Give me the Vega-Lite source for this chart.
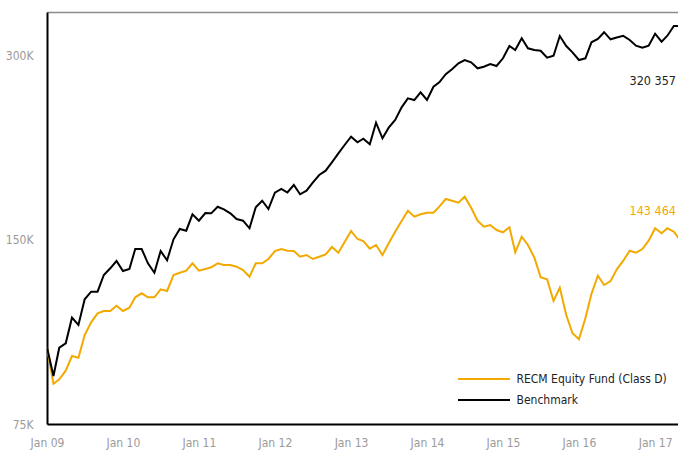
{
  "$schema": "https://vega.github.io/schema/vega-lite/v6.json",
  "width": 631,
  "height": 412,
  "autosize": {"type": "none"},
  "padding": {"left": 47, "top": 12, "right": 0, "bottom": 26},
  "background": "white",
  "config": {
    "view": {"stroke": null},
    "font": "Liberation Sans Narrow, DejaVu Sans Condensed, sans-serif"
  },
  "datasets": {
    "perf": [
      {"date": "2009/01/01", "fund": 100000, "benchmark": 100000},
      {"date": "2009/02/01", "fund": 87260, "benchmark": 89820},
      {"date": "2009/03/01", "fund": 88720, "benchmark": 99900},
      {"date": "2009/04/01", "fund": 91630, "benchmark": 101570},
      {"date": "2009/05/01", "fund": 96830, "benchmark": 111820},
      {"date": "2009/06/01", "fund": 96210, "benchmark": 108790},
      {"date": "2009/07/01", "fund": 104770, "benchmark": 119820},
      {"date": "2009/08/01", "fund": 109900, "benchmark": 123290},
      {"date": "2009/09/01", "fund": 113680, "benchmark": 123290},
      {"date": "2009/10/01", "fund": 114670, "benchmark": 131270},
      {"date": "2009/11/01", "fund": 114670, "benchmark": 134620},
      {"date": "2009/12/01", "fund": 116970, "benchmark": 138370},
      {"date": "2010/01/01", "fund": 114670, "benchmark": 133260},
      {"date": "2010/02/01", "fund": 116090, "benchmark": 134270},
      {"date": "2010/03/01", "fund": 120720, "benchmark": 144740},
      {"date": "2010/04/01", "fund": 122550, "benchmark": 144740},
      {"date": "2010/05/01", "fund": 120720, "benchmark": 137180},
      {"date": "2010/06/01", "fund": 120720, "benchmark": 132410},
      {"date": "2010/07/01", "fund": 124410, "benchmark": 143650},
      {"date": "2010/08/01", "fund": 123620, "benchmark": 138730},
      {"date": "2010/09/01", "fund": 131270, "benchmark": 150110},
      {"date": "2010/10/01", "fund": 132410, "benchmark": 156030},
      {"date": "2010/11/01", "fund": 133410, "benchmark": 155040},
      {"date": "2010/12/01", "fund": 137180, "benchmark": 164900},
      {"date": "2011/01/01", "fund": 133410, "benchmark": 160980},
      {"date": "2011/02/01", "fund": 134270, "benchmark": 165700},
      {"date": "2011/03/01", "fund": 135130, "benchmark": 165500},
      {"date": "2011/04/01", "fund": 137180, "benchmark": 169670},
      {"date": "2011/05/01", "fund": 136310, "benchmark": 168020},
      {"date": "2011/06/01", "fund": 136310, "benchmark": 165510},
      {"date": "2011/07/01", "fund": 135430, "benchmark": 162010},
      {"date": "2011/08/01", "fund": 133760, "benchmark": 160980},
      {"date": "2011/09/01", "fund": 130440, "benchmark": 156440},
      {"date": "2011/10/01", "fund": 137180, "benchmark": 169290},
      {"date": "2011/11/01", "fund": 137180, "benchmark": 173540},
      {"date": "2011/12/01", "fund": 139410, "benchmark": 168210},
      {"date": "2012/01/01", "fund": 143650, "benchmark": 178840},
      {"date": "2012/02/01", "fund": 144740, "benchmark": 181340},
      {"date": "2012/03/01", "fund": 143820, "benchmark": 178970},
      {"date": "2012/04/01", "fund": 143650, "benchmark": 184090},
      {"date": "2012/05/01", "fund": 140620, "benchmark": 177770},
      {"date": "2012/06/01", "fund": 141520, "benchmark": 180180},
      {"date": "2012/07/01", "fund": 139410, "benchmark": 185680},
      {"date": "2012/08/01", "fund": 140620, "benchmark": 191130},
      {"date": "2012/09/01", "fund": 141790, "benchmark": 194240},
      {"date": "2012/10/01", "fund": 145830, "benchmark": 200470},
      {"date": "2012/11/01", "fund": 142750, "benchmark": 207370},
      {"date": "2012/12/01", "fund": 148600, "benchmark": 213940},
      {"date": "2013/01/01", "fund": 154870, "benchmark": 220710},
      {"date": "2013/02/01", "fund": 150280, "benchmark": 216110},
      {"date": "2013/03/01", "fund": 149150, "benchmark": 219050},
      {"date": "2013/04/01", "fund": 144900, "benchmark": 214580},
      {"date": "2013/05/01", "fund": 146930, "benchmark": 232630},
      {"date": "2013/06/01", "fund": 141520, "benchmark": 219380},
      {"date": "2013/07/01", "fund": 147870, "benchmark": 228300},
      {"date": "2013/08/01", "fund": 154470, "benchmark": 234990},
      {"date": "2013/09/01", "fund": 160800, "benchmark": 246480},
      {"date": "2013/10/01", "fund": 167140, "benchmark": 254950},
      {"date": "2013/11/01", "fund": 163420, "benchmark": 253330},
      {"date": "2013/12/01", "fund": 164900, "benchmark": 260770},
      {"date": "2014/01/01", "fund": 165890, "benchmark": 253330},
      {"date": "2014/02/01", "fund": 165890, "benchmark": 266310},
      {"date": "2014/03/01", "fund": 169670, "benchmark": 270750},
      {"date": "2014/04/01", "fund": 174650, "benchmark": 279110},
      {"date": "2014/05/01", "fund": 173540, "benchmark": 284300},
      {"date": "2014/06/01", "fund": 172240, "benchmark": 290780},
      {"date": "2014/07/01", "fund": 176170, "benchmark": 294410},
      {"date": "2014/08/01", "fund": 169030, "benchmark": 291870},
      {"date": "2014/09/01", "fund": 160980, "benchmark": 285380},
      {"date": "2014/10/01", "fund": 157390, "benchmark": 287100},
      {"date": "2014/11/01", "fund": 158400, "benchmark": 290020},
      {"date": "2014/12/01", "fund": 155450, "benchmark": 287850},
      {"date": "2015/01/01", "fund": 154120, "benchmark": 296290},
      {"date": "2015/02/01", "fund": 157040, "benchmark": 310310},
      {"date": "2015/03/01", "fund": 142970, "benchmark": 305680},
      {"date": "2015/04/01", "fund": 151590, "benchmark": 319420},
      {"date": "2015/05/01", "fund": 146930, "benchmark": 307640},
      {"date": "2015/06/01", "fund": 140090, "benchmark": 305680},
      {"date": "2015/07/01", "fund": 130150, "benchmark": 304880},
      {"date": "2015/08/01", "fund": 129170, "benchmark": 296960},
      {"date": "2015/09/01", "fund": 119060, "benchmark": 299200},
      {"date": "2015/10/01", "fund": 125160, "benchmark": 322190},
      {"date": "2015/11/01", "fund": 112960, "benchmark": 310310},
      {"date": "2015/12/01", "fund": 105450, "benchmark": 303050},
      {"date": "2016/01/01", "fund": 103100, "benchmark": 294410},
      {"date": "2016/02/01", "fund": 111560, "benchmark": 296290},
      {"date": "2016/03/01", "fund": 122230, "benchmark": 314660},
      {"date": "2016/04/01", "fund": 130930, "benchmark": 318580},
      {"date": "2016/05/01", "fund": 126440, "benchmark": 326830},
      {"date": "2016/06/01", "fund": 128350, "benchmark": 318220},
      {"date": "2016/07/01", "fund": 134110, "benchmark": 320380},
      {"date": "2016/08/01", "fund": 138520, "benchmark": 322430},
      {"date": "2016/09/01", "fund": 143820, "benchmark": 317380},
      {"date": "2016/10/01", "fund": 142750, "benchmark": 310670},
      {"date": "2016/11/01", "fund": 144740, "benchmark": 308340},
      {"date": "2016/12/01", "fund": 149330, "benchmark": 310670},
      {"date": "2017/01/01", "fund": 156440, "benchmark": 324990},
      {"date": "2017/02/01", "fund": 153540, "benchmark": 315370},
      {"date": "2017/03/01", "fund": 156440, "benchmark": 322550},
      {"date": "2017/04/01", "fund": 154470, "benchmark": 334540},
      {"date": "2017/05/01", "fund": 149720, "benchmark": 334540}
    ]
  },
  "layer": [
    {
      "data": {"name": "perf"},
      "transform": [{"fold": ["fund", "benchmark"], "as": ["series", "value"]}],
      "mark": {"type": "line", "strokeWidth": 2, "clip": true},
      "encoding": {
        "x": {
          "field": "date",
          "type": "temporal",
          "scale": {"domain": [{"year": 2009, "month": 1, "date": 1}, {"year": 2017, "month": 4, "date": 21}]},
          "axis": {
            "orient": "bottom",
            "format": "%b %y",
            "tickCount": {"interval": "year", "step": 1},
            "labelFlush": false,
            "labelOverlap": false,
            "ticks": false,
            "tickSize": 0,
            "grid": false,
            "title": null,
            "domainColor": "#000000",
            "domainWidth": 2,
            "labelColor": "#9a9a9a",
            "labelFontSize": 12,
            "labelPadding": 13
          }
        },
        "y": {
          "field": "value",
          "type": "quantitative",
          "scale": {"type": "log", "domain": [75000, 352600]},
          "axis": {
            "values": [75000, 150000, 300000],
            "labelExpr": "datum.value >= 300000 ? '300K' : datum.value >= 150000 ? '150K' : '75K'",
            "title": null,
            "grid": false,
            "ticks": false,
            "tickSize": 0,
            "domainColor": "#000000",
            "domainWidth": 2,
            "labelColor": "#9a9a9a",
            "labelFontSize": 12,
            "labelPadding": 14
          }
        },
        "color": {
          "field": "series",
          "type": "nominal",
          "scale": {"domain": ["fund", "benchmark"], "range": ["#F2A900", "#000000"]},
          "legend": {
            "title": null,
            "orient": "none",
            "legendX": 429.5,
            "legendY": 359.5,
            "padding": 0,
            "symbolType": "M-4,0H4",
            "symbolSize": 169,
            "symbolStrokeWidth": 2,
            "labelOffset": 25,
            "rowPadding": 7,
            "labelFontSize": 12,
            "labelColor": "#222222",
            "labelLimit": 300,
            "labelExpr": "datum.label == 'fund' ? 'RECM Equity Fund (Class D)' : 'Benchmark'"
          }
        }
      }
    },
    {
      "data": {"values": [{"date": "2017/04/21", "value": 272100, "label": "320 357"}]},
      "mark": {"type": "text", "align": "right", "baseline": "middle", "dx": -2, "fontSize": 12.5, "color": "#222222"},
      "encoding": {
        "x": {
          "field": "date",
          "type": "temporal",
          "scale": {"domain": [{"year": 2009, "month": 1, "date": 1}, {"year": 2017, "month": 4, "date": 21}]},
          "axis": {"orient": "top", "labels": false, "ticks": false, "grid": false, "title": null, "domainColor": "#8c8c8c", "domainWidth": 1.5}
        },
        "y": {"field": "value", "type": "quantitative", "scale": {"type": "log", "domain": [75000, 352600]}},
        "text": {"field": "label"}
      }
    },
    {
      "data": {"values": [{"date": "2017/04/21", "value": 166900, "label": "143 464"}]},
      "mark": {"type": "text", "align": "right", "baseline": "middle", "dx": -2, "fontSize": 12.5, "color": "#F2A900"},
      "encoding": {
        "x": {
          "field": "date",
          "type": "temporal",
          "scale": {"domain": [{"year": 2009, "month": 1, "date": 1}, {"year": 2017, "month": 4, "date": 21}]},
          "axis": null
        },
        "y": {"field": "value", "type": "quantitative", "scale": {"type": "log", "domain": [75000, 352600]}},
        "text": {"field": "label"}
      }
    }
  ],
  "resolve": {"axis": {"x": "independent"}}
}
